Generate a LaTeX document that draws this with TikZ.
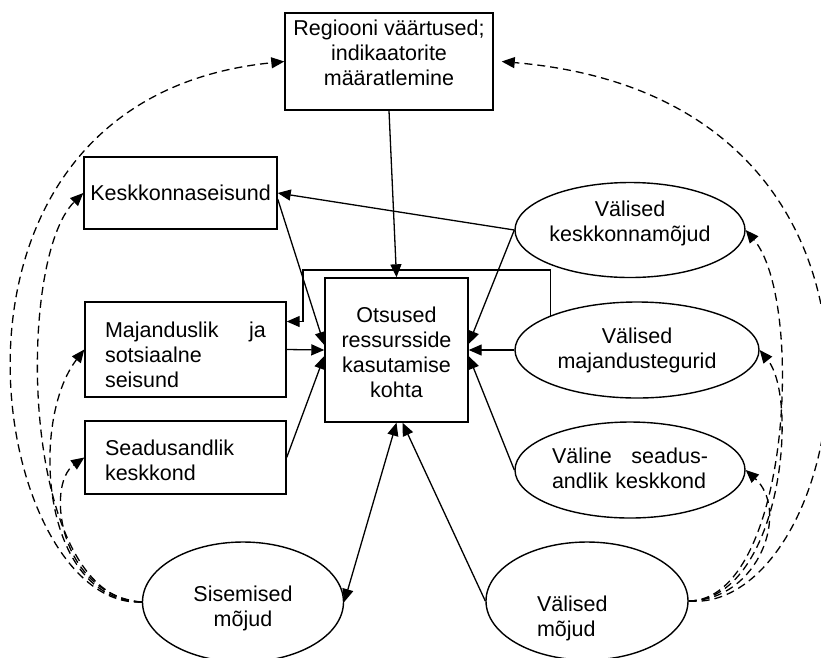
\documentclass[tikz,border=0pt]{standalone}
\usepackage{fontspec}
\setmainfont{Liberation Sans}
\usetikzlibrary{shapes.geometric,arrows.meta,positioning}

\begin{document}
\begin{tikzpicture}[x=1pt,y=-1pt,>={Triangle[length=13pt,width=11pt]},
  box/.style={draw,line width=1.4pt,inner sep=0pt,font=\fontsize{21.5}{25}\selectfont},
  oval/.style={ellipse,draw,line width=1.4pt,inner sep=0pt,align=center,font=\fontsize{21.5}{25}\selectfont},
  lift/.style={text height=0pt,text depth=#1},
  drop/.style={text height=#1,text depth=0pt},
  link/.style={->,line width=1.3pt},
  infl/.style={->,line width=1.3pt,dash pattern=on 8pt off 5pt}]
\useasboundingbox (0,0) rectangle (821,657);
\node[box,drop=47pt,minimum width=208pt,minimum height=97pt,align=center] (reg) at (389,61.5) {Regiooni väärtused;\\indikaatorite\\määratlemine};
\node[box,minimum width=193pt,minimum height=72pt] (kst) at (180.5,193) {Keskkonnaseisund};
\node[box,lift=24pt,minimum width=201pt,minimum height=95pt,text width=161pt,align=left] (mss) at (185.5,349.5) {Majanduslik\hfill ja\\sotsiaalne\\seisund};
\node[box,lift=4pt,minimum width=201pt,minimum height=73pt,text width=161pt,align=left] (sdk) at (185.5,457.5) {Seadusandlik\\keskkond};
\node[box,drop=95pt,minimum width=143pt,minimum height=144pt,align=center] (otsus) at (396.5,350) {Otsused\\ressursside\\kasutamise\\kohta};
\node[oval,drop=22pt,minimum width=230pt,minimum height=95pt] (vkm) at (630,230) {Välised\\keskkonnamõjud};
\node[oval,drop=37pt,minimum width=244pt,minimum height=96pt] (vmt) at (637,350) {Välised\\majandustegurid};
\node[oval,lift=13pt,minimum width=230pt,minimum height=96pt,text width=156pt,align=left] (vsk) at (630,470) {Väline\hfill seadus-\\andlik~keskkond};
\node[oval,drop=48pt,minimum width=201pt,minimum height=120pt] (sis) at (243,602) {Sisemised\\mõjud};
\node[oval,drop=20pt,minimum width=202pt,minimum height=118pt,text width=100pt,align=left] (val) at (587,601) {Välised\\mõjud};
\coordinate (bend) at (303,270);
\draw[link] (reg.south) -- (otsus.north);
\draw[link] (vkm.west) -- (kst.east); \draw[link] (vkm.west) -- ([yshift=6pt]otsus.east);
\draw[link] ([yshift=-6pt]kst.east) -- ([yshift=5pt]otsus.west);
\draw[link] (mss.east) -- (otsus.west); \draw[link] (sdk.east) -- ([yshift=-6pt]otsus.west);
\draw[link] (vmt.west) -- (otsus.east); \draw[link] (vsk.west) -- ([yshift=-6pt]otsus.east);
\draw[link] (vmt.north west) |- (bend) |- ([yshift=28pt]mss.east);
\draw[link,<->] (otsus.south) -- (sis.east);
\draw[link] (val.west) -- ([xshift=6pt]otsus.south);
\draw[infl] (sis.west) .. controls (-10,610) and (-100,100) .. (reg.west);
\draw[infl] (sis.west) .. controls (20,600) and (15,260) .. (kst.west);
\draw[infl] (sis.west) .. controls (40,600) and (30,420) .. (mss.west);
\draw[infl] (sis.west) .. controls (60,595) and (45,485) .. (sdk.west);
\draw[infl] (val.east) .. controls (850,615) and (955,100) .. ([xshift=8pt]reg.east);
\draw[infl] (val.east) .. controls (790,600) and (805,300) .. (vkm.east);
\draw[infl] (val.east) .. controls (780,600) and (800,400) .. (vmt.east);
\draw[infl] (val.east) .. controls (760,600) and (790,510) .. (vsk.east);
\end{tikzpicture}
\end{document}
